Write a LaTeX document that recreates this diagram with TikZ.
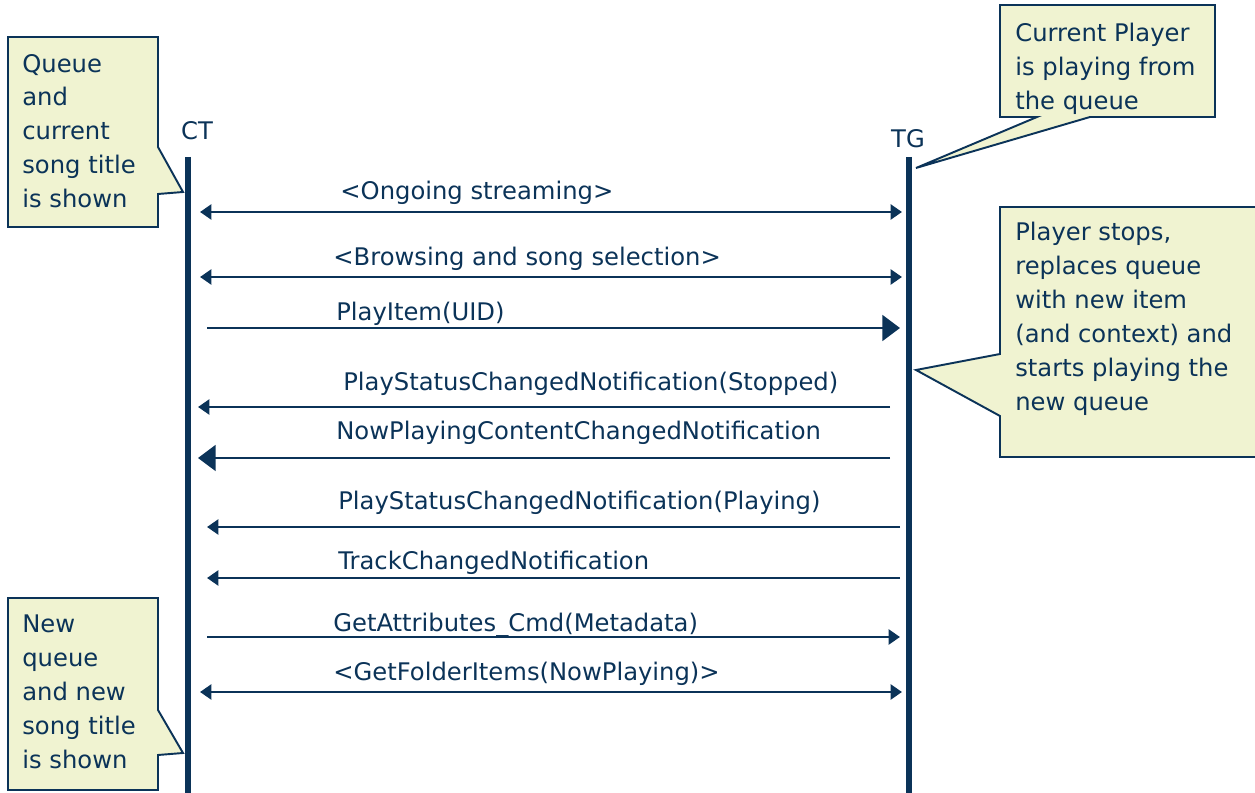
\documentclass[tikz,border=0pt]{standalone}
\usepackage{fontspec}
\setmainfont{DejaVu Sans}
\usetikzlibrary{arrows.meta}
\definecolor{navy}{HTML}{0B3358}
\definecolor{notefill}{HTML}{F0F3D1}
\tikzset{every node/.style={font=\fontsize{13.8}{19.3}\selectfont,text=navy,inner sep=0pt},
  lifeline/.style={draw=navy,line width=3pt},
  msg/.style={draw=navy,line width=1.7pt},
  both/.style={{Triangle[length=6.5pt,width=8.5pt]}-{Triangle[length=6.5pt,width=8.5pt]}},
  one/.style={-{Triangle[length=6.5pt,width=8.5pt]}},
  onebig/.style={-{Triangle[length=10pt,width=14.5pt]}},
  note/.style={draw=navy,fill=notefill,line width=1.1pt,line join=miter},
  notetext/.style={anchor=west,align=left}}

\begin{document}
\begin{tikzpicture}[x=0.02cm,y=-0.02cm]
\useasboundingbox (0,0) rectangle (1255,793);
% lifelines
\node (ct) at (197,131){CT};\node (tg) at (908,139){TG};
\coordinate (ctT) at (188,157);\coordinate (ctB) at (188,795);
\coordinate (tgT) at (909,157);\coordinate (tgB) at (909,795);
\draw[lifeline] (ctT)--(ctB);\draw[lifeline] (tgT)--(tgB);
% messages: name/y/from/to/tip/label x/label y/label
\foreach \n/\y/\xa/\xb/\tip/\lx/\ly/\txt in {
  a/212/200/902/both/340/193/{<Ongoing streaming>},
  b/277/200/902/both/333/259/{<Browsing and song selection>},
  c/328/207/900/onebig/336/314/{PlayItem(UID)},
  d/407/890/198/one/343/384/{PlayStatusChangedNotification(Stopped)},
  e/458/890/198/onebig/336/433/{NowPlayingContentChangedNotification},
  f/527/900/207/one/338/503/{PlayStatusChangedNotification(Playing)},
  g/578/900/207/one/338/563/{TrackChangedNotification},
  h/637/207/900/one/333/625/{GetAttributes\_Cmd(Metadata)},
  i/692/200/902/both/333/674/{<GetFolderItems(NowPlaying)>}}{
  \coordinate (\n1) at (\xa,\y);\coordinate (\n2) at (\xb,\y);
  \draw[msg,\tip] (\n1)--(\n2);
  \node[anchor=west] (\n lbl) at (\lx,\ly){\txt};
}
% notes
\draw[note] (8,37)--(158,37)--(158,147)--(183,192)--(158,194)--(158,227)--(8,227)--cycle;
\node[notetext] (queuenote) at (22,131){Queue\\and\\current\\song title\\is shown};
\begin{scope}
\draw[note] (1000,5)--(1215,5)--(1215,117)--(1090,117)--(916,168)--(1037,117)--(1000,117)--cycle;
\clip (1000,5) rectangle (1215,116);
\node[notetext] (playernote) at (1015,69){Current Player\\is playing from\\the queue};
\end{scope}
\draw[note] (1000,207)--(1262,207)--(1262,457)--(1000,457)--(1000,416)--(916,370)--(1000,354)--cycle;
\node[notetext] (stopnote) at (1015,319){Player stops,\\replaces queue\\with new item\\(and context) and\\starts playing the\\new queue};
\draw[note] (8,598)--(158,598)--(158,710)--(183,753)--(158,755)--(158,790)--(8,790)--cycle;
\node[notetext] (newnote) at (22,692){New\\queue\\and new\\song title\\is shown};
\end{tikzpicture}
\end{document}
